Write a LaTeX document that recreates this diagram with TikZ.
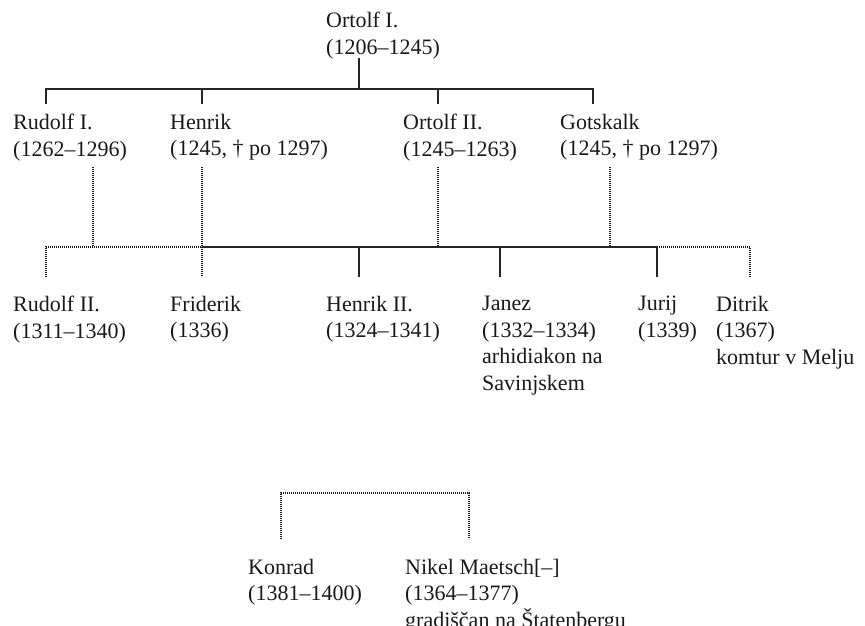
\documentclass[tikz,border=0pt]{standalone}
\usepackage{fontspec}
\setmainfont{Liberation Serif}
\newcommand{\pfont}{\fontsize{22}{26.5}\selectfont}
\tikzset{
  person/.style={anchor=north west, inner sep=0pt, align=left, font=\pfont, text=black!90, execute at begin node=\strut},
  solidline/.style={line width=1.4pt, black!85},
  dotline/.style={line width=1.4pt, black!90, dash pattern=on 0.9pt off 1.1pt},
}
\begin{document}
\begin{tikzpicture}[x=1pt,y=-1pt]
\useasboundingbox (0,0) rectangle (865,625);
% text nodes
\node[person] (o1) at (326,12) {Ortolf I.\\(1206–1245)};
\node[person] (r1) at (13,114) {Rudolf I.\\(1262–1296)};
\node[person] (h1) at (170,114) {Henrik\\(1245, † po 1297)};
\node[person] (o2) at (403,114) {Ortolf II.\\(1245–1263)};
\node[person] (g)  at (560,114) {Gotskalk\\(1245, † po 1297)};
\node[person] (r2) at (13,296) {Rudolf II.\\(1311–1340)};
\node[person] (fr) at (170,296) {Friderik\\(1336)};
\node[person] (h2) at (326,296) {Henrik II.\\(1324–1341)};
\node[person] (ja) at (482,296) {Janez\\(1332–1334)\\arhidiakon na\\Savinjskem};
\node[person] (ju) at (638,296) {Jurij\\(1339)};
\node[person] (di) at (716,296) {Ditrik\\(1367)\\komtur v Melju};
\node[person] (ko) at (248,559) {Konrad\\(1381–1400)};
\node[person] (ni) at (405,559) {Nikel Maetsch[–]\\(1364–1377)\\gradiščan na Štatenbergu};
% junction coordinates
\coordinate (o1d) at (359,58);
\coordinate (bar1) at (359,89);
\coordinate (b1a) at (46,89);
\coordinate (b1b) at (202,89);
\coordinate (b1c) at (438,89);
\coordinate (b1d) at (593,89);
\coordinate (r1t) at (46,104);
\coordinate (h1t) at (202,104);
\coordinate (o2t) at (438,104);
\coordinate (gt)  at (593,104);
% generation 1
\draw[solidline] (o1d) -- (bar1);
\draw[solidline] (r1t) -- (b1a) -- (b1d) -- (gt);
\draw[solidline] (b1b) -- (h1t);
\draw[solidline] (b1c) -- (o2t);
% row 2 to row 3
\coordinate (r1b) at (93,167);
\coordinate (h1b) at (202,167);
\coordinate (o2b) at (438,167);
\coordinate (gb)  at (610,167);
\coordinate (x1) at (46,247);
\coordinate (x2) at (93,247);
\coordinate (x3) at (202,247);
\coordinate (x4) at (359,247);
\coordinate (x5) at (438,247);
\coordinate (x6) at (500,247);
\coordinate (x7) at (610,247);
\coordinate (x8) at (657,247);
\coordinate (x9) at (750,247);
\coordinate (r2t) at (46,277);
\coordinate (frt) at (202,277);
\coordinate (h2t) at (359,277);
\coordinate (jat) at (500,277);
\coordinate (jut) at (657,277);
\coordinate (dit) at (750,277);
\draw[dotline] (r1b) -- (x2);
\draw[dotline] (h1b) -- (x3);
\draw[dotline] (o2b) -- (x5);
\draw[dotline] (gb) -- (x7);
\draw[dotline] (r2t) -- (x1) -- (x3);
\draw[solidline] (x3) -- (x8);
\draw[dotline] (x8) -- (x9) -- (dit);
\draw[dotline] (x3) -- (frt);
\draw[solidline] (x4) -- (h2t);
\draw[solidline] (x6) -- (jat);
\draw[solidline] (x8) -- (jut);
% bottom bracket
\coordinate (kot) at (281,539);
\coordinate (nit) at (469,539);
\coordinate (k1) at (281,493);
\coordinate (k2) at (469,493);
\draw[dotline] (kot) -- (k1) -- (k2) -- (nit);
\end{tikzpicture}
\end{document}
